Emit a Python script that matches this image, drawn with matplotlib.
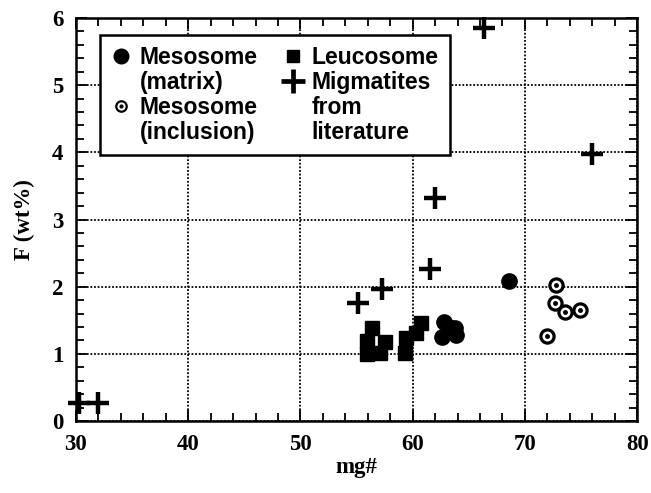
import matplotlib.pyplot as plt
from matplotlib.lines import Line2D
from matplotlib.ticker import MultipleLocator

# 中间体（基质）
matrix_mg = [62.8, 63.8, 62.6, 63.9, 63.2, 68.6]
matrix_f = [1.47, 1.38, 1.25, 1.28, 1.40, 2.08]

# 中间体（包体）
inclusion_mg = [72.8, 72.7, 73.6, 74.9, 72.0]
inclusion_f = [2.02, 1.76, 1.63, 1.65, 1.27]

# 浅色体
leuco_mg = [56.4, 55.9, 55.9, 57.5, 57.1, 59.3, 59.4, 60.7, 60.3]
leuco_f = [1.38, 1.19, 1.00, 1.18, 1.01, 1.01, 1.23, 1.46, 1.31]

# 文献中的混合岩
lit_mg = [30.3, 32.0, 55.1, 57.3, 61.5, 62.0, 66.4, 76.0]
lit_f = [0.27, 0.27, 1.76, 1.96, 2.27, 3.32, 5.85, 3.97]

X_TICKS = [30, 40, 50, 60, 70, 80]
Y_TICKS = [0, 1, 2, 3, 4, 5, 6]

serif_bold = {"family": "Liberation Serif", "weight": "bold", "size": 16.5}

fig = plt.figure(figsize=(6.51, 4.93), dpi=100)
ax = fig.add_axes([0.1167, 0.146, 0.862, 0.8175])

ax.plot(lit_mg, lit_f, ls="none", marker="+", ms=16, mew=3.2,
        color="black", zorder=3, clip_on=False)
ax.plot(leuco_mg, leuco_f, ls="none", marker="s", ms=10.5,
        color="black", zorder=3)
ax.plot(matrix_mg, matrix_f, ls="none", marker="o", ms=11,
        color="black", zorder=3)
ax.plot(inclusion_mg, inclusion_f, ls="none", marker="o", ms=9.5,
        mfc="white", mec="black", mew=2.3, zorder=3)
ax.plot(inclusion_mg, inclusion_f, ls="none", marker="o", ms=2.5,
        color="black", zorder=4)

ax.set_xlim(X_TICKS[0], X_TICKS[-1])
ax.set_ylim(Y_TICKS[0], Y_TICKS[-1])
ax.set_xticks(X_TICKS)
ax.set_yticks(Y_TICKS)
ax.xaxis.set_minor_locator(MultipleLocator(2))
ax.yaxis.set_minor_locator(MultipleLocator(0.2))
ax.tick_params(which="both", direction="in", top=True, right=True,
               width=1.3, color="black")
ax.tick_params(which="major", length=8, pad=9)
ax.tick_params(which="minor", length=5.5)
for lab in ax.get_xticklabels() + ax.get_yticklabels():
    lab.set_fontproperties(serif_bold)

ax.grid(True, which="major", color="black", ls=(0, (1, 1)), lw=1.3)
for side in ax.spines.values():
    side.set_linewidth(1.8)

ax.set_xlabel("mg#", fontdict=serif_bold, labelpad=2)
ax.set_ylabel("F (wt%)", fontdict=serif_bold, labelpad=12)

# 图例：两列，每列四行，续行不带符号
blank = Line2D([], [], ls="none")
ring = Line2D([], [], ls="none", marker="o", ms=7.5, mfc="white",
              mec="black", mew=1.6)
ring_dot = Line2D([], [], ls="none", marker="o", ms=2, color="black")
handles = [
    Line2D([], [], ls="none", marker="o", ms=10.5, color="black"),
    blank,
    (ring, ring_dot),
    blank,
    Line2D([], [], ls="none", marker="s", ms=9, color="black"),
    Line2D([], [], ls="none", marker="+", ms=17, mew=3.4, color="black"),
    blank,
    blank,
]
labels = ["Mesosome", "(matrix)", "Mesosome", "(inclusion)",
          "Leucosome", "Migmatites", "from", "literature"]
leg = ax.legend(handles, labels, ncol=2, loc="upper left",
                bbox_to_anchor=(0.042, 0.958), borderaxespad=0,
                prop={"family": "Liberation Sans", "weight": "bold",
                      "size": 16.5},
                handlelength=0.9, handletextpad=0.35, columnspacing=1.1,
                labelspacing=0.08, borderpad=0.5,
                fancybox=False, framealpha=1, edgecolor="black")
leg.get_frame().set_linewidth(1.8)
leg.set_zorder(5)

fig.savefig("out.png", dpi=100)
